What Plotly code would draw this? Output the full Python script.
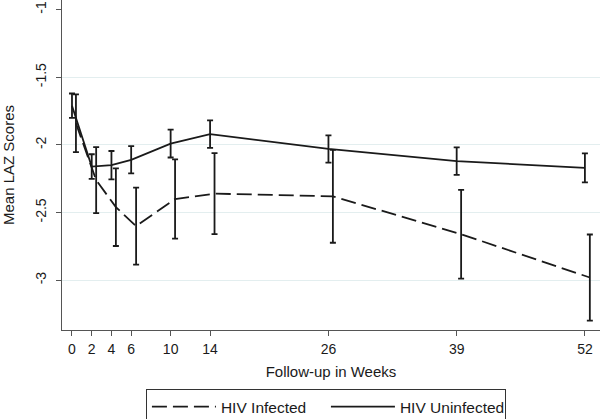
import plotly.graph_objects as go

# ---- data ----
weeks = [0, 2, 4, 6, 10, 14, 26, 39, 52]
weeks_infected = [0.4, 2.45, 4.45, 6.5, 10.45, 14.45, 26.45, 39.45, 52.5]
weeks_uninfected = [0, 2, 4, 6, 10, 14, 26, 39, 52]

infected_mean = [-1.84, -2.26, -2.46, -2.60, -2.40, -2.36, -2.38, -2.66, -2.98]
infected_ci = [0.213, 0.244, 0.287, 0.285, 0.293, 0.299, 0.343, 0.328, 0.318]

uninfected_mean = [-1.71, -2.16, -2.15, -2.11, -1.99, -1.92, -2.03, -2.12, -2.17]
uninfected_ci = [0.090, 0.091, 0.105, 0.101, 0.103, 0.102, 0.101, 0.102, 0.107]

y_ticks = [-1, -1.5, -2, -2.5, -3]
y_tick_labels = ["-1", "-1.5", "-2", "-2.5", "-3"]
grid_vals = [-1.5, -2, -2.5, -3]

FONT = "Liberation Sans, Arial, Helvetica, sans-serif"
INK = "#1a1a1a"
AXIS = "#555555"

fig = go.Figure()

fig.add_trace(go.Scatter(
    x=weeks_infected, y=infected_mean, mode="lines", name="HIV Infected",
    line=dict(color=INK, width=1.8, dash="15px,6px"),
    error_y=dict(type="data", array=infected_ci, visible=True,
                 color=INK, thickness=1.8, width=3),
))
fig.add_trace(go.Scatter(
    x=weeks_uninfected, y=uninfected_mean, mode="lines", name="HIV Uninfected",
    line=dict(color=INK, width=1.8),
    error_y=dict(type="data", array=uninfected_ci, visible=True,
                 color=INK, thickness=1.8, width=3),
))
# invisible trace to carry grid axis
fig.add_trace(go.Scatter(x=[None], y=[None], yaxis="y2", showlegend=False,
                         hoverinfo="skip"))

yr = [-3.368, -0.929]
fig.update_layout(
    width=600, height=419,
    margin=dict(l=62, r=0, t=0, b=89, autoexpand=False),
    paper_bgcolor="white", plot_bgcolor="rgba(0,0,0,0)",
    font=dict(family=FONT, size=14, color=INK),
    showlegend=True,
    legend=dict(
        orientation="h", x=0.156, xanchor="left", y=-0.179, yanchor="top",
        bordercolor="#333333", borderwidth=1, bgcolor="white",
        font=dict(size=15.5, family=FONT, color=INK),
        itemwidth=64, traceorder="normal",
        entrywidth=100, entrywidthmode="pixels",
    ),
    xaxis=dict(
        range=[-1.013, 53.53], tickvals=weeks, ticktext=[str(w) for w in weeks],
        showgrid=False, zeroline=False, showline=True, linecolor=AXIS, linewidth=1,
        ticks="outside", ticklen=5, tickcolor=AXIS, tickwidth=1,
        tickfont=dict(size=14), ticklabelstandoff=1, automargin=False,
        title=dict(text="Follow-up in Weeks", font=dict(size=15), standoff=10),
    ),
    yaxis=dict(
        range=yr, tickvals=y_ticks, ticktext=y_tick_labels, tickangle=-90,
        showgrid=False, zeroline=False, showline=True, linecolor=AXIS, linewidth=1,
        ticks="outside", ticklen=5, tickcolor=AXIS, tickwidth=1,
        tickfont=dict(size=14), ticklabelstandoff=4, automargin=False,
        title=dict(text="Mean LAZ Scores", font=dict(size=15), standoff=18),
    ),
    yaxis2=dict(
        range=yr, overlaying="y", side="left", tickvals=grid_vals,
        showticklabels=False, showgrid=True, gridcolor="#e3eeef", gridwidth=1,
        zeroline=False, showline=False, ticks="", automargin=False,
        layer="below traces",
    ),
)

fig.write_html(
    "out.html",
    config={"displayModeBar": False},
    post_script="document.body.style.margin='0px';document.body.style.overflow='hidden';",
)
